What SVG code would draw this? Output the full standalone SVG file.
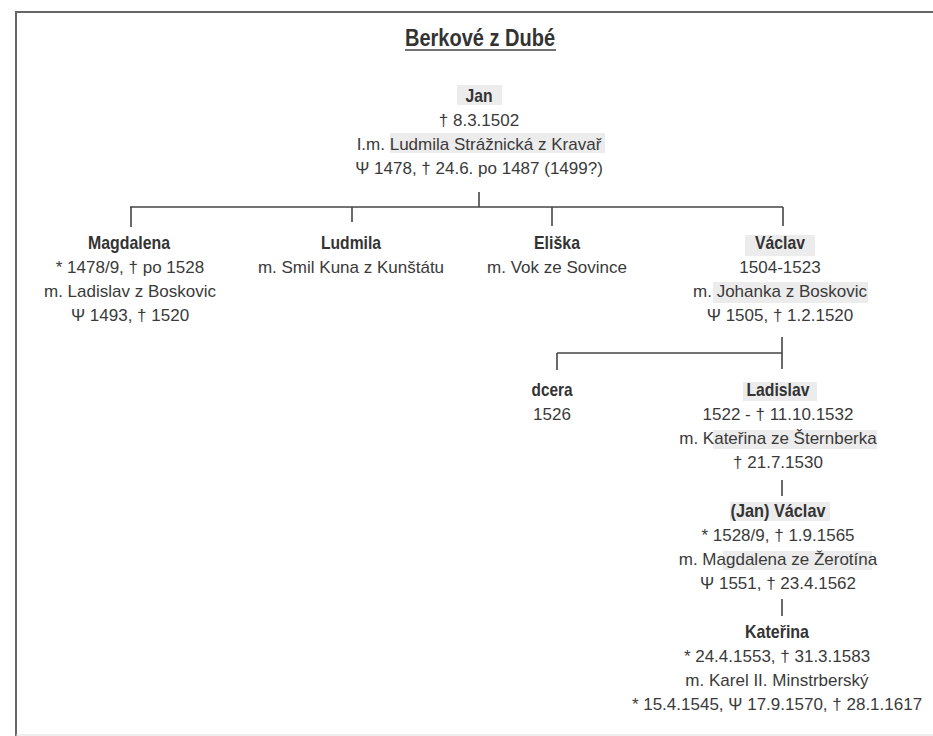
<svg xmlns="http://www.w3.org/2000/svg" width="933" height="736" viewBox="0 0 933 736">
<style>
text{font-family:"Liberation Sans",Arial,sans-serif;font-size:17px;fill:#3a3a3a;text-anchor:middle}
.b{font-weight:bold;font-size:19px;fill:#333}
.t{font-weight:bold;font-size:24.5px;fill:#333}
.hl{fill:#ececec}
.c line{stroke:#444;stroke-width:1.6}
.frame{stroke:#666;stroke-width:2;fill:none}
</style>
<rect width="933" height="736" fill="#fff"/>
<path class="frame" d="M16,736 V12 H933"/>
<line x1="16" y1="735" x2="933" y2="735" stroke="#ddd" stroke-width="1"/>
<g id="title">
<text class="t" x="480" y="46" textLength="150" lengthAdjust="spacingAndGlyphs">Berkové z Dubé</text>
<line x1="405" y1="50" x2="556" y2="50" stroke="#444" stroke-width="1.6"/>
</g>
<g class="c" id="connectors">
<line x1="479" y1="192" x2="479" y2="207"/>
<line x1="130" y1="207" x2="783" y2="207"/>
<line x1="131" y1="207" x2="131" y2="227"/>
<line x1="352" y1="207" x2="352" y2="222"/>
<line x1="552" y1="207" x2="552" y2="226"/>
<line x1="783" y1="207" x2="783" y2="226"/>
<line x1="782" y1="337" x2="782" y2="353"/>
<line x1="557" y1="353" x2="782" y2="353"/>
<line x1="557" y1="353" x2="557" y2="370"/>
<line x1="782" y1="353" x2="782" y2="369"/>
<line x1="782" y1="480" x2="782" y2="496"/>
<line x1="782" y1="599" x2="782" y2="616"/>
</g>
<g id="jan">
<rect class="hl" x="457" y="85" width="45" height="20"/>
<rect class="hl" x="390" y="133" width="215" height="20"/>
<text class="b" x="479" y="102" textLength="27" lengthAdjust="spacingAndGlyphs">Jan</text>
<text x="479" y="126">† 8.3.1502</text>
<text x="479" y="150">I.m. Ludmila Strážnická z Kravař</text>
<text x="479" y="174">Ψ 1478, † 24.6. po 1487 (1499?)</text>
</g>
<g id="magdalena">
<text class="b" x="129" y="249" textLength="82" lengthAdjust="spacingAndGlyphs">Magdalena</text>
<text x="130" y="273">* 1478/9, † po 1528</text>
<text x="130" y="297">m. Ladislav z Boskovic</text>
<text x="130" y="321">Ψ 1493, † 1520</text>
</g>
<g id="ludmila">
<text class="b" x="351" y="249" textLength="60" lengthAdjust="spacingAndGlyphs">Ludmila</text>
<text x="351" y="273">m. Smil Kuna z Kunštátu</text>
</g>
<g id="eliska">
<text class="b" x="557" y="249" textLength="46" lengthAdjust="spacingAndGlyphs">Eliška</text>
<text x="557" y="273">m. Vok ze Sovince</text>
</g>
<g id="vaclav">
<rect class="hl" x="745" y="235" width="70" height="21"/>
<rect class="hl" x="713" y="282" width="155" height="21"/>
<text class="b" x="780" y="249" textLength="50" lengthAdjust="spacingAndGlyphs">Václav</text>
<text x="780" y="273">1504-1523</text>
<text x="780" y="297">m. Johanka z Boskovic</text>
<text x="780" y="321">Ψ 1505, † 1.2.1520</text>
</g>
<g id="dcera">
<text class="b" x="552" y="396" textLength="41" lengthAdjust="spacingAndGlyphs">dcera</text>
<text x="552" y="420">1526</text>
</g>
<g id="ladislav">
<rect class="hl" x="743" y="382" width="74" height="19"/>
<rect class="hl" x="713" y="430" width="164" height="19"/>
<text class="b" x="778" y="396" textLength="63" lengthAdjust="spacingAndGlyphs">Ladislav</text>
<text x="778" y="420">1522 - † 11.10.1532</text>
<text x="778" y="444">m. Kateřina ze Šternberka</text>
<text x="778" y="468">† 21.7.1530</text>
</g>
<g id="jan-vaclav">
<rect class="hl" x="730" y="502" width="100" height="19"/>
<rect class="hl" x="723" y="551" width="149" height="19"/>
<text class="b" x="778" y="517" textLength="95" lengthAdjust="spacingAndGlyphs">(Jan) Václav</text>
<text x="778" y="541">* 1528/9, † 1.9.1565</text>
<text x="778" y="565">m. Magdalena ze Žerotína</text>
<text x="778" y="589">Ψ 1551, † 23.4.1562</text>
</g>
<g id="katerina">
<text class="b" x="777" y="638" textLength="64" lengthAdjust="spacingAndGlyphs">Kateřina</text>
<text x="777" y="662">* 24.4.1553, † 31.3.1583</text>
<text x="777" y="686">m. Karel II. Minstrberský</text>
<text x="777" y="710">* 15.4.1545, Ψ 17.9.1570, † 28.1.1617</text>
</g>
</svg>
